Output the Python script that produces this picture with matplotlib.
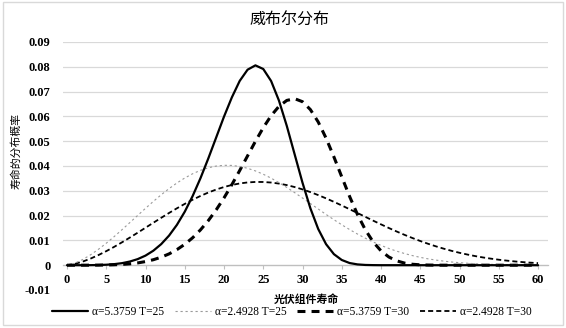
import matplotlib
matplotlib.use("Agg")
import matplotlib.pyplot as plt
from matplotlib.patches import Rectangle

# ---------------- data ----------------
lifetime = list(range(0, 61))

labels = ["α=5.3759 T=25", "α=2.4928 T=25", "α=5.3759 T=30", "α=2.4928 T=30"]

pdf_a5_t25 = [0, 0, 0.000003, 0.00002, 0.00007, 0.00019, 0.00042, 0.00082, 0.00147, 0.00245,
              0.00387, 0.00585, 0.00850, 0.01194, 0.01627, 0.02157, 0.02786, 0.03507, 0.04305, 0.05148,
              0.05992, 0.06768, 0.07432, 0.07883, 0.08058, 0.07911, 0.07427, 0.06636, 0.05613, 0.04468,
              0.03324, 0.02296, 0.01460, 0.00848, 0.00445, 0.00210, 0.00087, 0.00032, 0.00010, 0.00003,
              0, 0, 0, 0, 0, 0, 0, 0, 0, 0,
              0, 0, 0, 0, 0, 0, 0, 0, 0, 0, 0]

pdf_a2_t25 = [0, 0.00082, 0.00229, 0.00419, 0.00640, 0.00886, 0.01151, 0.01430, 0.01717, 0.02006,
              0.02293, 0.02573, 0.02839, 0.03088, 0.03315, 0.03516, 0.03687, 0.03825, 0.03929, 0.03997,
              0.04028, 0.04023, 0.03982, 0.03908, 0.03802, 0.03668, 0.03510, 0.03330, 0.03134, 0.02926,
              0.02709, 0.02488, 0.02266, 0.02047, 0.01834, 0.01630, 0.01437, 0.01256, 0.01089, 0.00936,
              0.00798, 0.00674, 0.00565, 0.00470, 0.00387, 0.00316, 0.00256, 0.00206, 0.00164, 0.00129,
              0.00101, 0.00078, 0.00060, 0.00046, 0.00034, 0.00026, 0.00019, 0.00014, 0.00010, 0.00007,
              0.00005]

pdf_a5_t30 = [0, 0, 0, 0.00001, 0.00003, 0.00007, 0.00016, 0.00031, 0.00055, 0.00092,
              0.00146, 0.00221, 0.00323, 0.00456, 0.00628, 0.00843, 0.01106, 0.01424, 0.01798, 0.02229,
              0.02714, 0.03248, 0.03819, 0.04408, 0.04994, 0.05545, 0.06028, 0.06406, 0.06645, 0.06714,
              0.06592, 0.06275, 0.05775, 0.05123, 0.04366, 0.03561, 0.02770, 0.02046, 0.01429, 0.00938,
              0.00577, 0.00330, 0.00175, 0.00085, 0.00038, 0.00015, 0.00006, 0.00002, 0, 0,
              0, 0, 0, 0, 0, 0, 0, 0, 0, 0, 0]

pdf_a2_t30 = [0, 0.00052, 0.00146, 0.00266, 0.00408, 0.00566, 0.00738, 0.00922, 0.01113, 0.01310,
              0.01511, 0.01712, 0.01911, 0.02106, 0.02294, 0.02472, 0.02639, 0.02792, 0.02930, 0.03051,
              0.03152, 0.03235, 0.03296, 0.03337, 0.03357, 0.03355, 0.03333, 0.03291, 0.03230, 0.03151,
              0.03057, 0.02948, 0.02827, 0.02695, 0.02555, 0.02408, 0.02257, 0.02104, 0.01950, 0.01796,
              0.01646, 0.01499, 0.01358, 0.01223, 0.01096, 0.00975, 0.00863, 0.00760, 0.00665, 0.00578,
              0.00500, 0.00430, 0.00367, 0.00312, 0.00264, 0.00221, 0.00185, 0.00153, 0.00126, 0.00103,
              0.00084]

x_ticks = [0, 5, 10, 15, 20, 25, 30, 35, 40, 45, 50, 55, 60]
y_ticks = [-0.01, 0, 0.01, 0.02, 0.03, 0.04, 0.05, 0.06, 0.07, 0.08, 0.09]
y_tick_labels = ["-0.01", "0", "0.01", "0.02", "0.03", "0.04", "0.05", "0.06", "0.07", "0.08", "0.09"]

title = "威布尔分布"
xlabel = "光伏组件寿命"
ylabel = "寿命的分布概率"

# ---------------- figure ----------------
W, H = 566, 328
fig = plt.figure(figsize=(W / 100, H / 100), dpi=100)
fig.patch.set_facecolor("white")

# outer chart border
fig.patches.append(Rectangle((3 / W, 1 - 325 / H), 560 / W, 323 / H, transform=fig.transFigure,
                             fill=False, edgecolor="#d9d9d9", linewidth=1.0))

ax = fig.add_axes([63 / W, 1 - 290 / H, 485 / W, 248 / H])
ax.set_xlim(-0.51, 61.27)
ax.set_ylim(-0.01, 0.09)

serif = ["Liberation Serif", "DejaVu Serif"]
cjk = ["Noto Sans CJK SC", "DejaVu Sans"]

# grid
for yv in y_ticks:
    ax.axhline(yv, color="#d9d9d9", linewidth=0.9, zorder=0)

for s in ["top", "right", "left"]:
    ax.spines[s].set_visible(False)
ax.spines["bottom"].set_position(("data", 0))
ax.spines["bottom"].set_color("#bfbfbf")
ax.spines["bottom"].set_linewidth(0.9)

ax.set_xticks(x_ticks)
ax.set_xticklabels([str(v) for v in x_ticks], fontfamily=serif, fontsize=9, fontweight="bold")
ax.tick_params(axis="x", length=3, color="#bfbfbf", width=0.8, pad=3)
ax.set_yticks(y_ticks)
ax.set_yticklabels(y_tick_labels, fontfamily=serif, fontsize=9, fontweight="bold")
ax.tick_params(axis="y", length=0, pad=9)

l1, = ax.plot(lifetime, pdf_a5_t25, color="black", linewidth=1.6, solid_capstyle="round",
              solid_joinstyle="round", zorder=5)
l2, = ax.plot(lifetime, pdf_a2_t25, color="#9a9a9a", linewidth=0.8, linestyle=(0, (2, 2.5)), zorder=4)
l3, = ax.plot(lifetime, pdf_a5_t30, color="black", linewidth=2.2, linestyle=(0, (2.6, 2.0)), zorder=3)
l4, = ax.plot(lifetime, pdf_a2_t30, color="black", linewidth=1.3, linestyle=(0, (2.8, 1.7)), zorder=2)

fig.text(289 / W, 1 - 20 / H, title, ha="center", va="center", fontsize=11.5, fontfamily=cjk)
fig.text(306 / W, 1 - 300 / H, xlabel, ha="center", va="center", fontsize=7.8, fontfamily=cjk,
         fontweight="bold")
fig.text(16 / W, 1 - 151 / H, ylabel, ha="center", va="center", rotation=90, fontsize=7.8,
         fontfamily=cjk)

leg = fig.legend([l1, l2, l3, l4], labels, loc="center", bbox_to_anchor=(292 / W, 1 - 312 / H),
                 ncol=4, frameon=False, handlelength=3.1, handletextpad=0.35, columnspacing=0.95,
                 prop={"family": serif, "size": 8.3})

fig.savefig("out.png", dpi=100)
